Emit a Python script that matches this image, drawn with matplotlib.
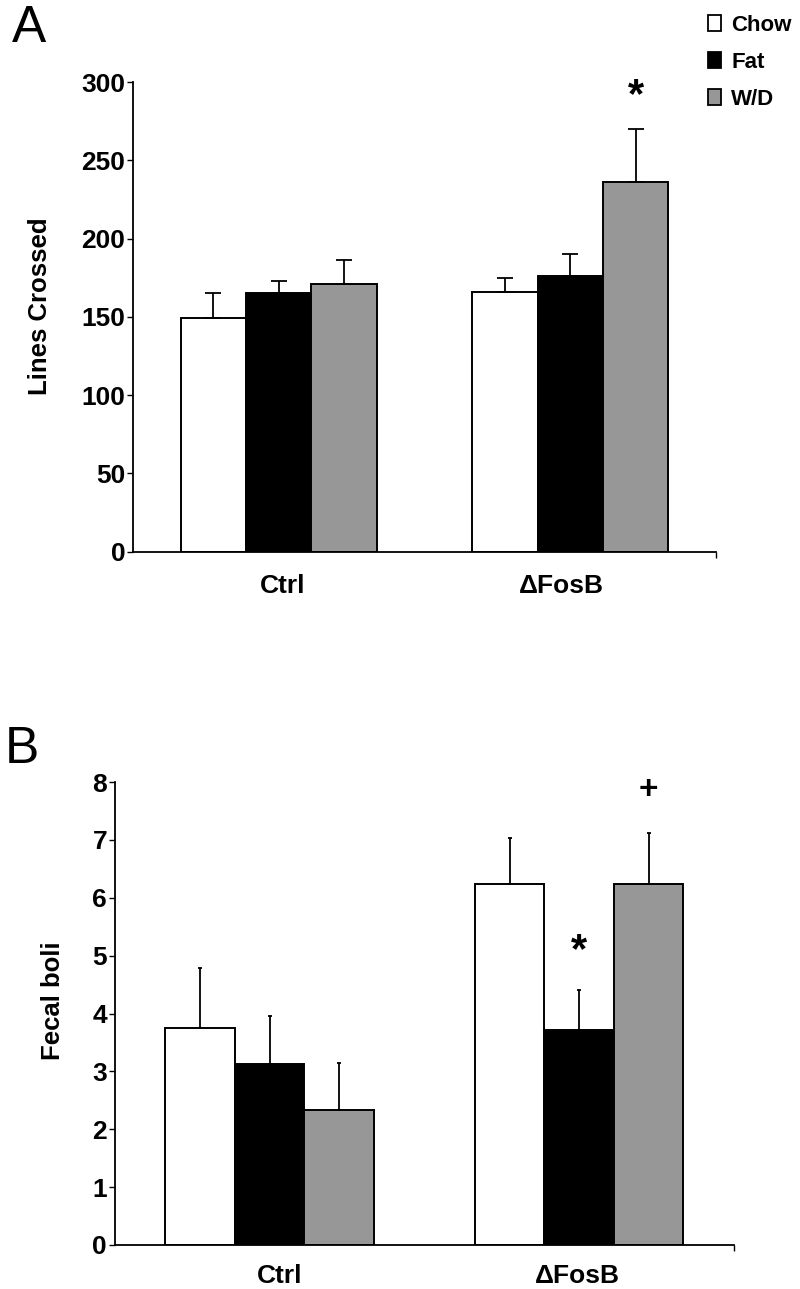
import matplotlib
matplotlib.use("Agg")
import matplotlib.pyplot as plt
from matplotlib.patches import Patch
import numpy as np

plt.rcParams['font.family'] = ['Liberation Sans', 'DejaVu Sans']

groups = ["Ctrl", "\u0394FosB"]
diets = ["Chow", "Fat", "W/D"]
colors = ["#ffffff", "#000000", "#979797"]

# Panel A: Lines crossed (mean, SEM)
lines_mean = {"Chow": [149, 166], "Fat": [165, 176], "W/D": [171, 236]}
lines_err = {"Chow": [16, 9], "Fat": [8, 14], "W/D": [15, 34]}

# Panel B: Fecal boli (mean, SEM)
boli_mean = {"Chow": [3.75, 6.23], "Fat": [3.13, 3.71], "W/D": [2.34, 6.23]}
boli_err = {"Chow": [1.04, 0.80], "Fat": [0.82, 0.69], "W/D": [0.81, 0.89]}

W, H = 800, 1289
fig = plt.figure(figsize=(W / 100, H / 100), dpi=100)

def px_axes(left, right, top, bottom):
    return fig.add_axes([left / W, 1 - bottom / H, (right - left) / W, (bottom - top) / H])

centers = np.array([0.5, 1.5])
bw = 0.224
offsets = [-bw, 0, bw]

def draw_panel(ax, means, errs, ymax, yticks, capsize, label_x, label_y, ylabel):
    for i, d in enumerate(diets):
        x = centers + offsets[i]
        ax.bar(x, means[d], width=bw, color=colors[i], edgecolor="black",
               linewidth=1.4, zorder=2)
        ax.errorbar(x, means[d], yerr=[np.zeros(len(x)), errs[d]], fmt="none",
                    ecolor="black", elinewidth=1.3, capsize=capsize,
                    capthick=1.3, zorder=3)
    ax.set_xlim(0, 2)
    ax.set_ylim(0, ymax)
    ax.set_yticks(yticks)
    ax.set_yticklabels([str(t) for t in yticks], fontsize=19, fontweight="bold")
    ax.set_xticks([2])
    ax.set_xticklabels([])
    ax.tick_params(axis="y", length=4, width=1, pad=1.5, direction="out")
    ax.tick_params(axis="x", length=4, width=1, direction="out")
    for s in ["top", "right"]:
        ax.spines[s].set_visible(False)
    ax.spines["left"].set_linewidth(1.3)
    ax.spines["bottom"].set_linewidth(1.3)
    for xl, g in zip(label_x, groups):
        ax.text(xl, label_y, g, transform=ax.get_xaxis_transform(), ha="center",
                va="center", fontsize=19, fontweight="bold")
    ax.set_ylabel(ylabel, fontsize=18.5, fontweight="bold")

axA = px_axes(133, 716, 82, 551.7)
draw_panel(axA, lines_mean, lines_err, 300, [0, 50, 100, 150, 200, 250, 300],
           5.5, [0.515, 1.468], -0.073, "Lines Crossed")
axA.yaxis.set_label_coords(-0.139, 0.523)
axA.text(centers[1] + offsets[2], 291, "*", ha="center", va="center",
         fontsize=30, fontweight="bold")

axB = px_axes(114.7, 734, 782, 1245)
draw_panel(axB, boli_mean, boli_err, 8, list(range(9)),
           1.2, [0.534, 1.493], -0.068, "Fecal boli")
axB.yaxis.set_label_coords(-0.080, 0.527)
axB.text(centers[1] + offsets[1], 5.08, "*", ha="center", va="center",
         fontsize=30, fontweight="bold")
axB.text(centers[1] + offsets[2], 7.86, "+", ha="center", va="center",
         fontsize=24, fontweight="bold")

fig.text(12 / W, 1 - 42 / H, "A", fontsize=37, ha="left", va="baseline")
fig.text(5 / W, 1 - 763 / H, "B", fontsize=37, ha="left", va="baseline")

handles = [Patch(facecolor=c, edgecolor="black", linewidth=1.3) for c in colors]
fig.legend(handles, diets, loc="upper left", bbox_to_anchor=(708 / W, 1 - 15 / H),
           frameon=False, borderpad=0, borderaxespad=0, handlelength=0.6,
           handleheight=0.75, handletextpad=0.45, labelspacing=0.71,
           prop={"size": 16, "weight": "bold"})

fig.savefig("out.png", dpi=100)
